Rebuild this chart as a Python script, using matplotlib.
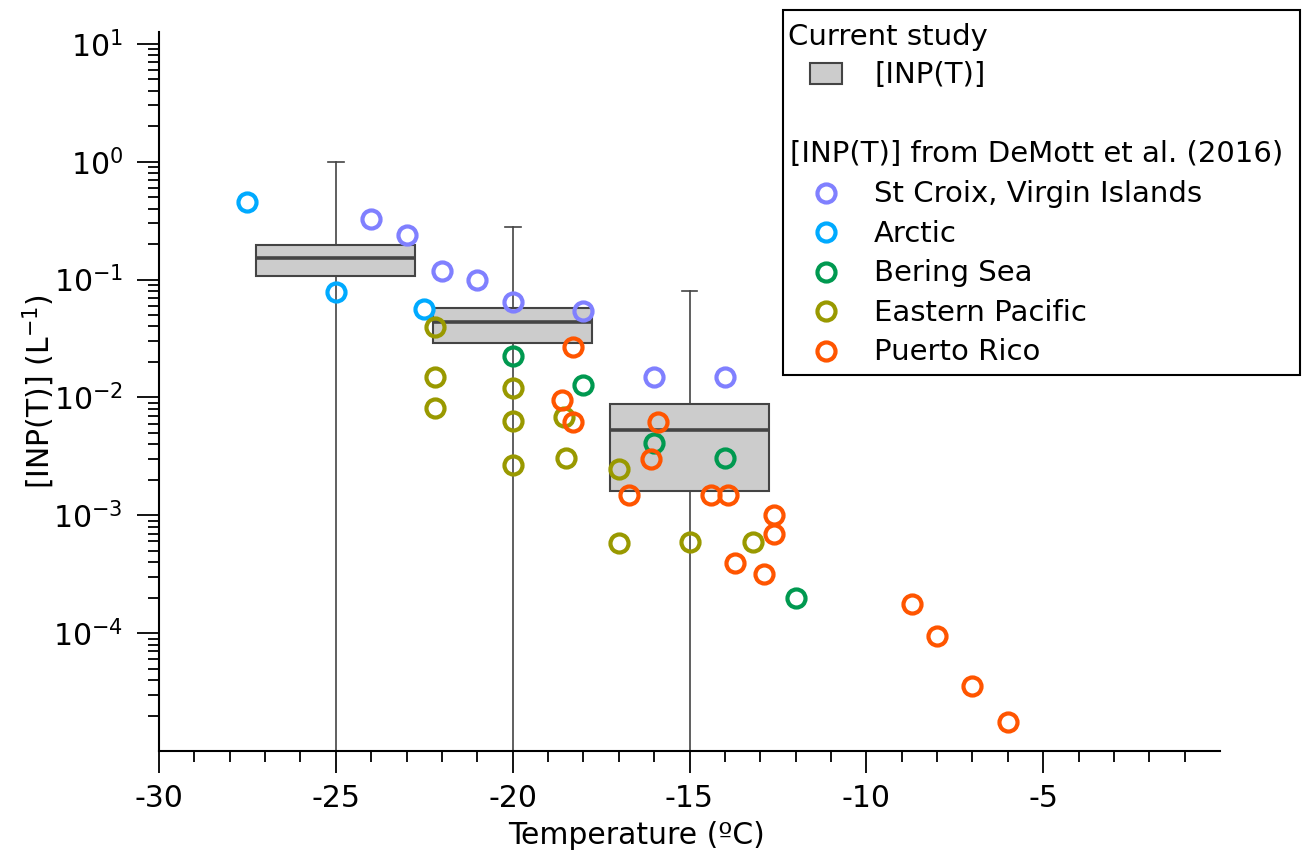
import math

import matplotlib

matplotlib.use("Agg")
import matplotlib.pyplot as plt
from matplotlib.lines import Line2D
from matplotlib.patches import Rectangle
from matplotlib.ticker import FixedLocator, LogLocator, FuncFormatter, NullFormatter

# current study box statistics, one box per temperature
box_temps = [-25, -20, -15]
box_q1 = [0.107, 0.029, 0.00161]
box_med = [0.153, 0.0434, 0.00527]
box_q3 = [0.198, 0.0575, 0.00877]
box_hi = [1.0, 0.279, 0.0807]
box_lo = [1e-7, 1e-7, 1e-7]

# DeMott et al. (2016) sites
stcroix_t = [-24, -23, -22, -21, -20, -18, -16, -14]
stcroix_inp = [0.328, 0.238, 0.119, 0.099, 0.0643, 0.0542, 0.0148, 0.0148]
arctic_t = [-27.5, -25, -22.5]
arctic_inp = [0.455, 0.079, 0.056]
bering_t = [-20, -18, -16, -14, -12]
bering_inp = [0.0223, 0.0127, 0.00407, 0.00308, 0.000198]
epac_t = [-22.2, -22.2, -22.2, -20, -20, -20, -18.55, -18.5, -17, -17, -15, -13.2]
epac_inp = [0.0394, 0.0148, 0.00807, 0.0119, 0.0063, 0.00267, 0.00686, 0.00308,
            0.00247, 0.00058, 0.000594, 0.000594]
prico_t = [-18.3, -18.6, -18.3, -15.9, -16.1, -16.7, -14.4, -13.9, -12.6, -12.6,
           -13.7, -12.9, -8.7, -8.0, -7.0, -6.0]
prico_inp = [0.0267, 0.0095, 0.00622, 0.00622, 0.00298, 0.00148, 0.00148, 0.00148,
             0.000996, 0.00069, 0.000397, 0.000318, 0.000178, 9.4e-5, 3.56e-5, 1.77e-5]

site_names = ["St Croix, Virgin Islands", "Arctic", "Bering Sea", "Eastern Pacific", "Puerto Rico"]
site_colors = ["#8080FF", "#00AAFF", "#009950", "#999900", "#FF5500"]

W, H = 1302, 855
FS = 21.5
EDGE = "#444444"

plt.rcParams["font.family"] = ["DejaVu Sans"]
plt.rcParams["mathtext.default"] = "regular"
plt.rcParams["axes.unicode_minus"] = False

fig = plt.figure(figsize=(W / 100, H / 100), dpi=100)
ax = fig.add_axes([159 / W, 1 - 751 / H, (1220 - 159) / W, (751 - 32) / H])

stats = [
    dict(med=m, q1=a, q3=b, whislo=lo, whishi=hi, fliers=[])
    for m, a, b, lo, hi in zip(box_med, box_q1, box_q3, box_lo, box_hi)
]
ax.bxp(
    stats,
    positions=box_temps,
    widths=4.5,
    capwidths=0.45,
    patch_artist=True,
    showfliers=False,
    boxprops=dict(facecolor="#CCCCCC", edgecolor=EDGE, linewidth=1.5),
    medianprops=dict(color=EDGE, linewidth=2.6),
    whiskerprops=dict(color=EDGE, linewidth=1.2),
    capprops=dict(color=EDGE, linewidth=1.2),
    manage_ticks=False,
    zorder=2,
)

series = [
    (stcroix_t, stcroix_inp),
    (arctic_t, arctic_inp),
    (bering_t, bering_inp),
    (epac_t, epac_inp),
    (prico_t, prico_inp),
]
for (t, inp), color in zip(series, site_colors):
    ax.plot(t, inp, linestyle="none", marker="o", markersize=13, markerfacecolor="none",
            markeredgecolor=color, markeredgewidth=3.0, zorder=3)

ax.set_yscale("log")
ax.set_xlim(-30, 0)
ax.set_ylim(1e-5, 10 ** 1.1)

ax.xaxis.set_major_locator(FixedLocator(list(range(-30, 0, 5))))
ax.xaxis.set_minor_locator(FixedLocator(list(range(-29, 0))))
ax.yaxis.set_major_locator(FixedLocator([1e-4, 1e-3, 1e-2, 1e-1, 1, 10]))
ax.yaxis.set_minor_locator(LogLocator(base=10, subs=range(2, 10), numticks=20))
ax.yaxis.set_major_formatter(FuncFormatter(lambda v, pos: "10$^{%d}$" % round(math.log10(v))))
ax.yaxis.set_minor_formatter(NullFormatter())

ax.tick_params(which="major", direction="out", length=16, width=1.3, labelsize=FS, pad=10)
ax.tick_params(which="minor", direction="out", length=8, width=1.3)
ax.tick_params(axis="x", which="major", pad=8)

for side in ["top", "right"]:
    ax.spines[side].set_visible(False)
for side in ["left", "bottom"]:
    ax.spines[side].set_linewidth(1.5)

ax.set_xlabel("Temperature (ºC)", fontsize=FS)
ax.xaxis.set_label_coords((637 - 159) / (1220 - 159), -0.097)
ax.set_ylabel("[INP(T)] (L$^{-1}$)", fontsize=FS)
ax.yaxis.set_label_coords((57 - 159) / (1220 - 159), 0.5)


# legend, drawn by hand in figure pixels so the two group headers sit flush left
def fx(px):
    return px / W


def fy(py):
    return 1 - py / H


LFS = 21
fig.add_artist(Rectangle((fx(783), fy(375)), fx(1300) - fx(783), fy(10) - fy(375),
                         transform=fig.transFigure, facecolor="white", edgecolor="black",
                         linewidth=1.5, zorder=5))
fig.text(fx(788), fy(45), "Current study", fontsize=LFS, va="baseline", zorder=6)
fig.add_artist(Rectangle((fx(810), fy(84)), fx(842) - fx(810), fy(63) - fy(84),
                         transform=fig.transFigure, facecolor="#CCCCCC", edgecolor=EDGE,
                         linewidth=1.5, zorder=6))
fig.text(fx(874), fy(83), "[INP(T)]", fontsize=LFS, va="baseline", zorder=6)
fig.text(fx(790), fy(162), "[INP(T)] from DeMott et al. (2016)", fontsize=LFS, va="baseline", zorder=6)
for i, (name, color) in enumerate(zip(site_names, site_colors)):
    base = 202.5 + i * 39.4
    fig.add_artist(Line2D([fx(826)], [fy(base - 9.5)], transform=fig.transFigure, linestyle="none",
                          marker="o", markersize=13, markerfacecolor="none",
                          markeredgecolor=color, markeredgewidth=3.0, zorder=6))
    fig.text(fx(874), fy(base), name, fontsize=LFS, va="baseline", zorder=6)

fig.savefig("out.png", dpi=100)
